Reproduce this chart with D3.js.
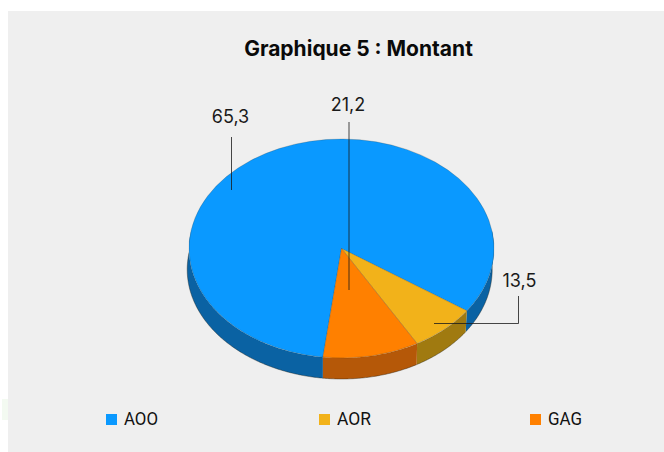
<!DOCTYPE html>
<html><head><meta charset="utf-8">
<style>html,body{margin:0;padding:0;background:#fff}svg{display:block}</style>
<script src="https://cdn.jsdelivr.net/npm/d3@7"></script></head>
<body><svg id="c" width="664" height="452"></svg>
<script>
const categories = ["AOO", "AOR", "GAG"];
const labels = ["65,3", "13,5", "21,2"];           // printed labels
const sliceShares = [82.7, 7.1, 10.2];             // shares as actually drawn in the picture
const topColors = ["#0a99ff", "#f2b21a", "#ff8000"];
const sideColors = ["#0a62a3", "#a07a10", "#b55808"];

const svg = d3.select("#c");
const cx = 341.5, cy = 248.5, rx = 152.5, ry = 109.5, depth = 21, shift = -1.8;
const startDeg = 187.0;

svg.append("rect").attr("x", 8).attr("y", 11).attr("width", 656).attr("height", 441).attr("fill", "#efefef");
svg.append("rect").attr("x", 2).attr("y", 399).attr("width", 6).attr("height", 21).attr("fill", "#f3faf1");

svg.append("text").attr("x", 358.5).attr("y", 56).attr("text-anchor", "middle")
  .attr("font-family", "Inter").attr("font-weight", 700).attr("font-size", 21).attr("fill", "#0a0a0a")
  .text("Graphique 5 : Montant");

const arcs = d3.pie().sort(null).value(d => d)
  .startAngle(startDeg * Math.PI / 180).endAngle((startDeg + 360) * Math.PI / 180)(sliceShares);

const px = a => cx + rx * Math.sin(a), py = a => cy - ry * Math.cos(a);
const sideLine = d3.line();
const sides = svg.append("g");
arcs.forEach((d, i) => {
  for (const k of [-1, 0, 1]) {
    const a0 = Math.max(d.startAngle, Math.PI * 0.45 + k * 2 * Math.PI);
    const a1 = Math.min(d.endAngle, Math.PI * 1.55 + k * 2 * Math.PI);
    if (a1 <= a0) continue;
    const as = d3.range(a0, a1, 0.01).concat([a1]);
    const lower = as.map(a => [px(a) + shift * Math.sin(a) ** 2, py(a) + depth]);
    const pts = as.map(a => [px(a), py(a)]).concat(lower.slice().reverse());
    sides.append("path").attr("d", sideLine(pts) + "Z").attr("fill", sideColors[i]);
    sides.append("path").attr("d", sideLine(lower)).attr("fill", "none")
      .attr("stroke", "rgba(30,25,15,.55)").attr("stroke-width", .7);
  }
});

const tops = svg.append("g").attr("transform", `translate(${cx},${cy}) scale(1,${ry / rx})`);
const arc = d3.arc().innerRadius(0).outerRadius(rx);
tops.selectAll("path").data(arcs).join("path")
  .attr("d", arc).attr("fill", (d, i) => topColors[i])
  .attr("stroke", "rgba(60,50,30,.35)").attr("stroke-width", .6).attr("vector-effect", "non-scaling-stroke");

const leaders = [
  {label: 0, path: d3.path(), tx: 230.5, ty: 123},
  {label: 2, path: d3.path(), tx: 348, ty: 111},
  {label: 1, path: d3.path(), tx: 519.5, ty: 287}
];
leaders[0].path.moveTo(231.5, 137); leaders[0].path.lineTo(231.5, 190);
leaders[1].path.moveTo(349, 122); leaders[1].path.lineTo(349, 290);
leaders[2].path.moveTo(518.5, 296); leaders[2].path.lineTo(518.5, 323.5); leaders[2].path.lineTo(434, 323.5);
leaders.forEach(l => {
  svg.append("path").attr("d", l.path.toString()).attr("fill", "none").attr("stroke", "#1a1a1a").attr("stroke-opacity", .8).attr("stroke-width", 1);
  svg.append("text").attr("x", l.tx).attr("y", l.ty).attr("text-anchor", "middle")
    .attr("font-family", "Inter").attr("font-size", 18).attr("fill", "#1a1a1a").text(labels[l.label]);
});

const legendX = d3.scaleOrdinal().domain(categories).range([106, 319, 530]);
categories.forEach((c, i) => {
  svg.append("rect").attr("x", legendX(c)).attr("y", 414).attr("width", 11).attr("height", 11).attr("fill", topColors[i]);
  svg.append("text").attr("x", legendX(c) + 18).attr("y", 425)
    .attr("font-family", "Roboto").attr("font-size", 19).attr("fill", "#111")
    .attr("textLength", 34).attr("lengthAdjust", "spacingAndGlyphs").text(c);
});
</script></body></html>
